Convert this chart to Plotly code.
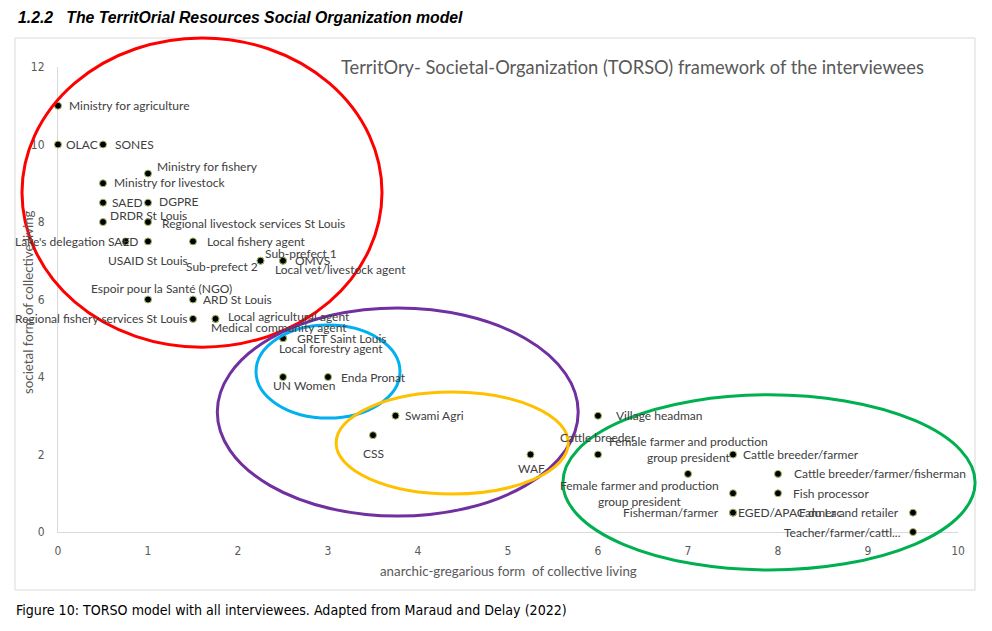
import plotly.graph_objects as go

# ---------------- data ----------------
labels = [
    "Ministry for agriculture", "OLAC", "SONES", "Ministry for fishery",
    "Ministry for livestock", "SAED", "DGPRE", "DRDR St Louis",
    "Regional livestock services St Louis", "Lake's delegation SAED",
    "USAID St Louis", "Local fishery agent", "Sub-prefect 1", "Sub-prefect 2",
    "OMVS", "Local vet/livestock agent", "Espoir pour la Santé (NGO)",
    "ARD St Louis", "Regional fishery services St Louis",
    "Local agricultural agent", "Medical community agent", "GRET Saint Louis",
    "Local forestry agent", "UN Women", "Enda Pronat", "Swami Agri", "CSS",
    "WAF", "Village headman", "Cattle breeder",
    "Female farmer and production<br>group president",
    "Cattle breeder/farmer", "Cattle breeder/farmer/fisherman",
    "Female farmer and production<br>group president", "Fish processor",
    "Fisherman/farmer", "EGED/APAC du Lac", "Farmer and retailer",
    "Teacher/farmer/cattl...",
]
anarchic_gregarious = [
    0, 0, 0.5, 1,
    0.5, 0.5, 1, 0.5,
    1, 0.75,
    1, 1.5, 2.25, 2.25,
    2.5, 2.5, 1,
    1.5, 1.5,
    1.75, 1.75, 2.5,
    2.5, 2.5, 3, 3.75, 3.5,
    5.25, 6, 6,
    7,
    7.5, 8,
    7.5, 8,
    7.5, 7.5, 9.5,
    9.5,
]
societal = [
    11, 10, 10, 9.25,
    9, 8.5, 8.5, 8,
    8, 7.5,
    7.5, 7.5, 7, 7,
    7, 7, 6,
    6, 5.5,
    5.5, 5.5, 5,
    5, 4, 4, 3, 2.5,
    2, 3, 2,
    1.5,
    2, 1.5,
    1, 1,
    0.5, 0.5, 0.5,
    0,
]

x_ticks = [0, 1, 2, 3, 4, 5, 6, 7, 8, 9, 10]
y_ticks = [0, 2, 4, 6, 8, 10, 12]

# groups drawn as ellipses (data units: x0, x1, y0, y1)
groups = {
    "institutions": (-0.4, 3.6, 4.77, 12.75),
    "ngo": (2.2, 3.8, 2.94, 5.34),
    "intermediate": (1.77, 5.78, 0.41, 5.78),
    "private": (3.09, 5.67, 0.98, 3.61),
    "locals": (5.61, 10.19, -0.98, 3.54),
}

# ---------------- styles ----------------
# label placement: (xanchor, yanchor, xshift px, yshift px)
label_style = [
    ("left", "middle", 9, 0), ("left", "middle", 6, 0), ("left", "middle", 10, 0), ("left", "middle", 7, 7),
    ("left", "middle", 9, 1), ("left", "middle", 7, 0), ("left", "middle", 9, 1), ("left", "middle", 5, 7),
    ("left", "middle", 12, -1), ("right", "middle", 14, 0),
    ("center", "middle", 0, -19), ("left", "middle", 12, 0), ("left", "middle", 2, 7), ("right", "middle", -1, -6),
    ("left", "middle", 10, 0), ("left", "middle", -10, -9), ("center", "middle", 13, 11),
    ("left", "middle", 8, 0), ("right", "middle", -3, 0),
    ("left", "middle", 10, 2), ("left", "middle", -7, -9), ("left", "middle", 12, 0),
    ("left", "middle", -6, -10), ("center", "middle", 21, -8), ("left", "middle", 11, 0), ("left", "middle", 7, 0), ("center", "middle", 0, -18),
    ("center", "middle", 1, -14), ("left", "middle", 16, 0), ("center", "middle", 0, 17),
    ("center", "middle", 0, 24),
    ("left", "middle", 8, 0), ("left", "middle", 14, 0),
    ("right", "middle", -12, 0), ("left", "middle", 13, 0),
    ("right", "middle", -12, 0), ("left", "middle", 3, 0), ("right", "middle", -12, 0),
    ("right", "middle", -10, 0),
]
group_colors = {
    "institutions": "#FF0000",
    "ngo": "#00B0F0",
    "intermediate": "#7030A0",
    "private": "#FFC000",
    "locals": "#00B050",
}

XR = (0, 10)
YR = (0, 12)
W, H = 992, 631
L, R, T, B = 58, 34, 67, 99
PW, PH = W - L - R, H - T - B


def px_x(p):
    return (p - L) / PW


def px_y(p):
    return (H - B - p) / PH


def dx(v):
    return (v - XR[0]) / (XR[1] - XR[0])


def dy(v):
    return (v - YR[0]) / (YR[1] - YR[0])


LABEL_FONT = "Lato, Calibri, Carlito, 'Open Sans', sans-serif"
NARROW = "'Liberation Sans Narrow', 'Arial Narrow', 'DejaVu Sans Condensed', sans-serif"

fig = go.Figure()
fig.add_trace(go.Scatter(
    x=anarchic_gregarious, y=societal, text=labels,
    mode="markers",
    marker=dict(size=7, color="black", line=dict(color="#a8c36a", width=1)),
    cliponaxis=False, hoverinfo="text", showlegend=False,
))

shapes = []
# outer chart border
shapes.append(dict(type="rect", xref="paper", yref="paper",
                   x0=px_x(15), x1=px_x(975), y0=px_y(590), y1=px_y(38),
                   line=dict(color="#d9d9d9", width=1), layer="below"))
for g, (x0, x1, y0, y1) in groups.items():
    shapes.append(dict(type="circle", xref="paper", yref="paper",
                       x0=dx(x0), x1=dx(x1), y0=dy(y0), y1=dy(y1),
                       line=dict(color=group_colors[g], width=3), layer="above"))

annotations = []
for xv, yv, txt, (xa, ya, xs, ys) in zip(anarchic_gregarious, societal, labels, label_style):
    annotations.append(dict(
        x=xv, y=yv, xref="x", yref="y", text=txt, showarrow=False,
        xanchor=xa, yanchor=ya, xshift=xs, yshift=ys, align="center",
        font=dict(family=LABEL_FONT, size=12, color="#404040"),
    ))

annotations += [
    dict(text="TerritOry- Societal-Organization (TORSO) framework of the interviewees",
         xref="paper", yref="paper", x=px_x(339), y=px_y(67), xanchor="left", yanchor="middle",
         showarrow=False, font=dict(family=LABEL_FONT, size=18.3, color="#595959")),
    dict(text="anarchic-gregarious form  of collective living",
         xref="paper", yref="paper", x=0.5, y=px_y(571), xanchor="center", yanchor="middle",
         showarrow=False, font=dict(family=LABEL_FONT, size=13.3, color="#595959")),
    dict(text="societal form of collective living", textangle=-90,
         xref="paper", yref="paper", x=px_x(28), y=px_y(302), xanchor="center", yanchor="middle",
         showarrow=False, font=dict(family=LABEL_FONT, size=13.3, color="#595959")),
    dict(text="<b><i>1.2.2   The TerritOrial Resources Social Organization model</i></b>",
         xref="paper", yref="paper", x=px_x(16), y=px_y(18), xanchor="left", yanchor="middle",
         showarrow=False, font=dict(family="'Liberation Sans', Arial, sans-serif", size=15.8, color="black")),
    dict(text="Figure 10: TORSO model with all interviewees. Adapted from Maraud and Delay (2022)",
         xref="paper", yref="paper", x=px_x(14), y=px_y(610), xanchor="left", yanchor="middle",
         showarrow=False, font=dict(family=NARROW, size=14.1, color="black")),
]

fig.update_layout(
    width=W, height=H,
    margin=dict(l=L, r=R, t=T, b=B, pad=0),
    paper_bgcolor="white", plot_bgcolor="white",
    shapes=shapes, annotations=annotations,
    xaxis=dict(range=list(XR), tickvals=x_ticks, showgrid=False, zeroline=False,
               showline=True, linecolor="#d9d9d9", linewidth=1, ticks="",
               ticklabelstandoff=8, layer="below traces",
               tickfont=dict(family=NARROW, size=12, color="#595959")),
    yaxis=dict(range=list(YR), tickvals=y_ticks, showgrid=False, zeroline=False,
               showline=True, linecolor="#d9d9d9", linewidth=1, ticks="",
               ticklabelstandoff=10, layer="below traces",
               tickfont=dict(family=NARROW, size=12, color="#595959")),
    font=dict(family=LABEL_FONT),
)

fig.write_html("out.html", config={"displayModeBar": False},
               post_script="document.body.style.margin='0px';")
